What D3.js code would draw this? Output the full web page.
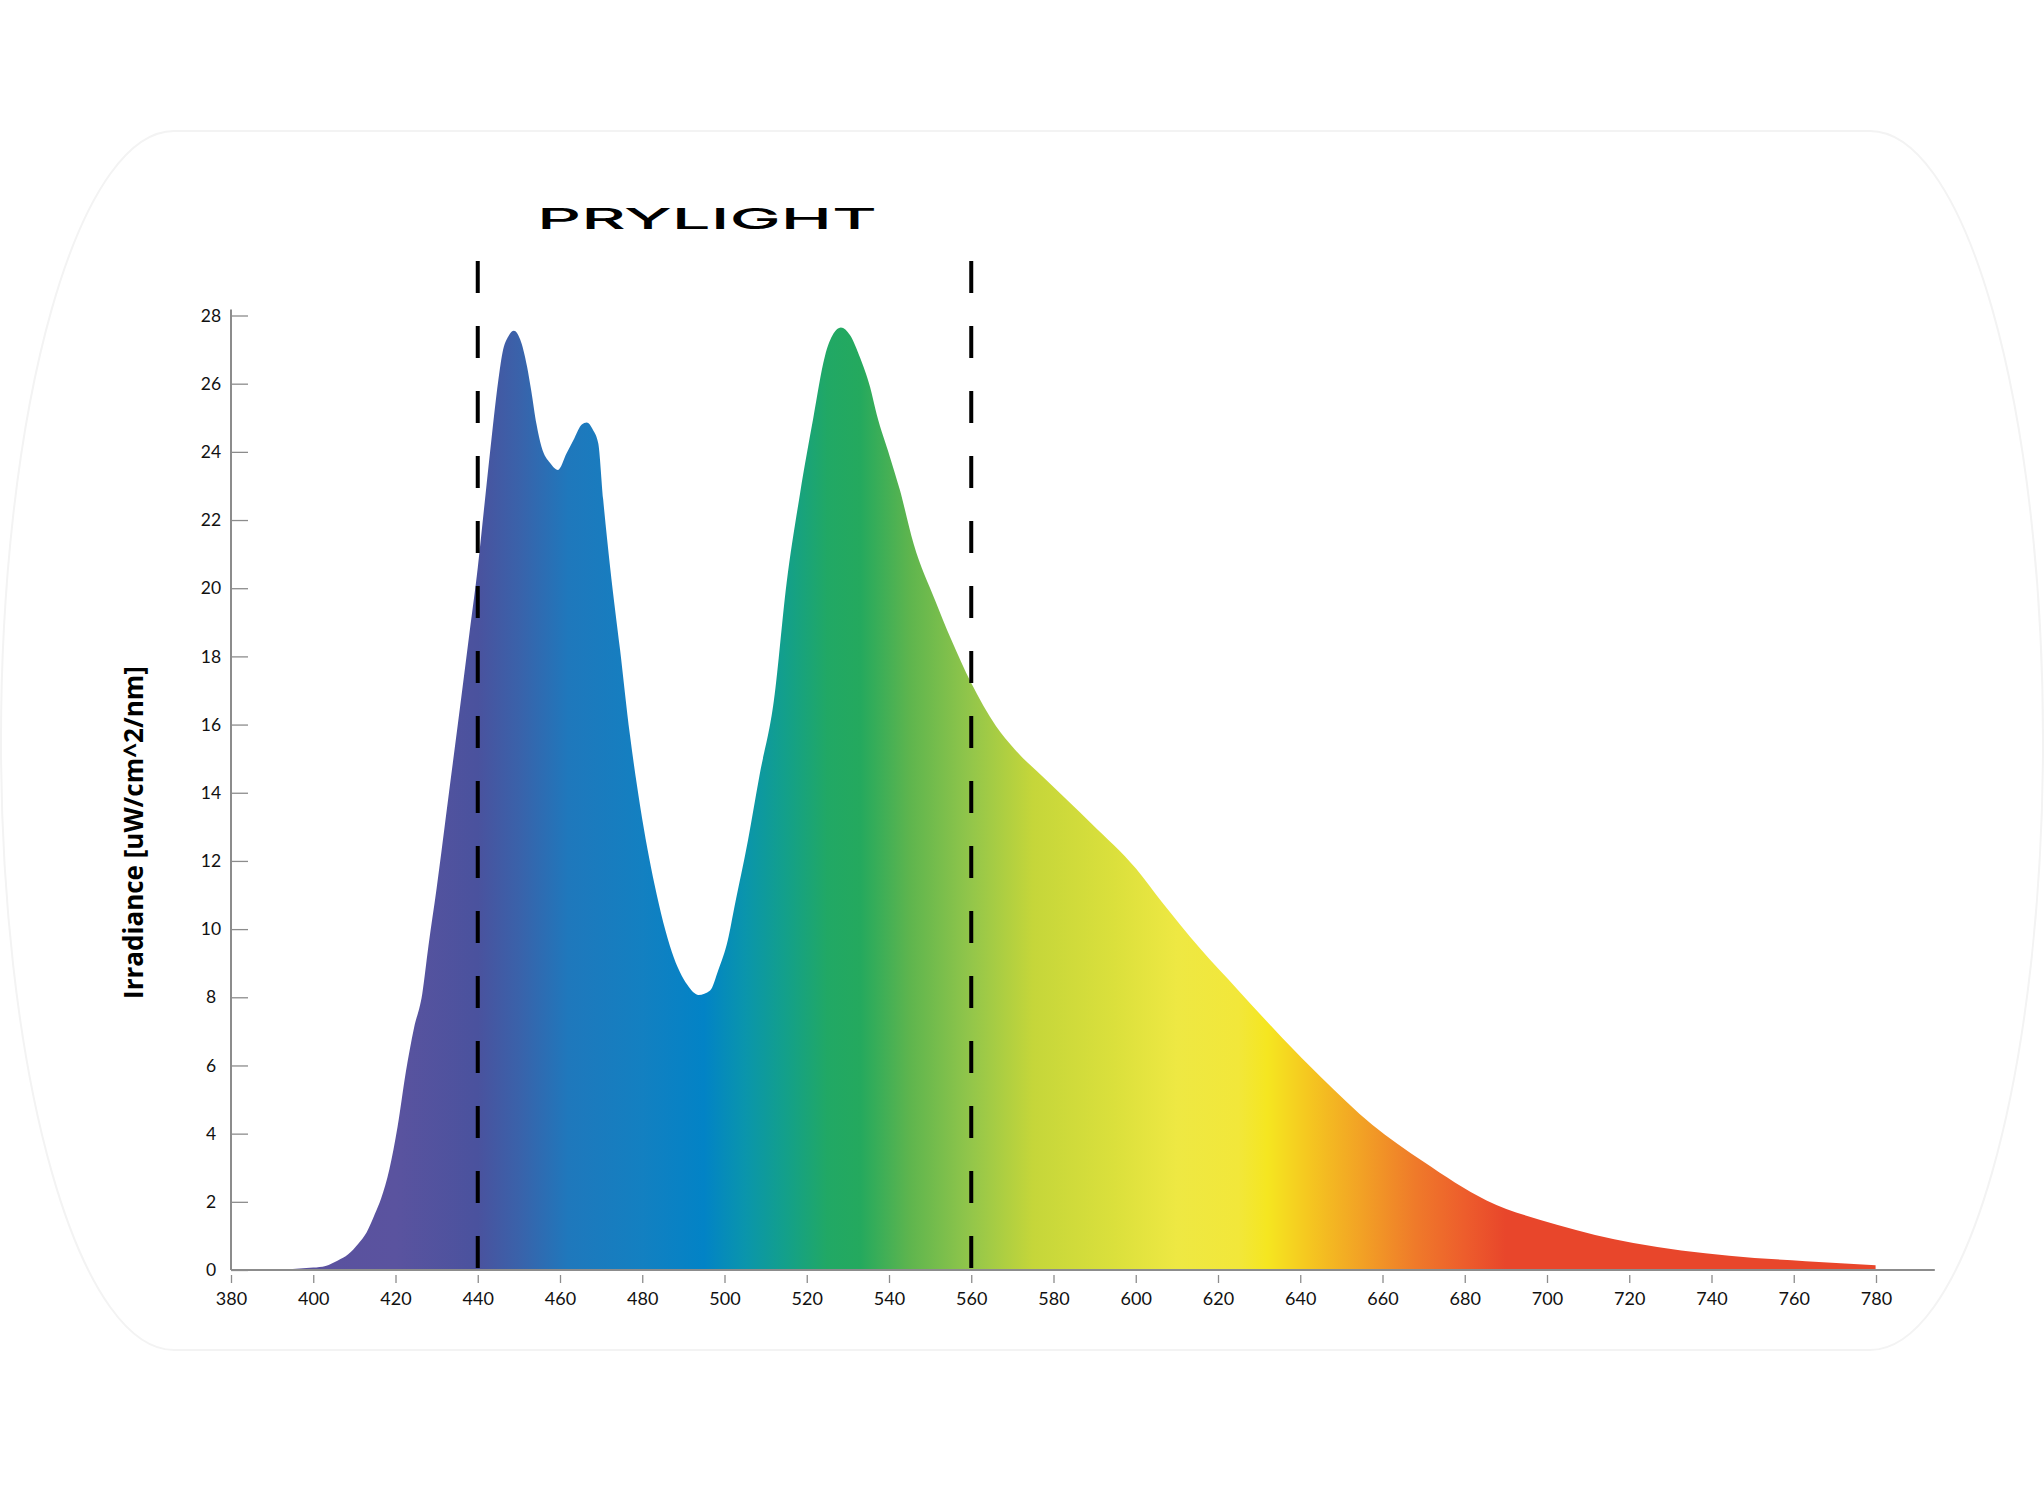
<!DOCTYPE html>
<html>
<head>
<meta charset="utf-8">
<script src="https://cdn.jsdelivr.net/npm/d3@7"></script>
<style>
  html, body { margin: 0; padding: 0; background: #ffffff; }
  svg { display: block; }
</style>
</head>
<body>
<svg id="chart" width="2044" height="1485"></svg>
<script>
// ---------------- DATA ----------------
const titleText = "PRYLIGHT";
const yAxisTitle = "Irradiance [uW/cm^2/nm]";

const wavelengths = [380, 385, 390, 395, 400, 403, 406, 408.5, 411, 413, 415, 416.5, 418.5, 420.5, 422.5, 424.5, 426.5, 428, 430, 433, 436, 438, 440, 441.5, 443, 445, 446, 447.5, 448.8, 450.3, 452, 453, 454.3, 455.5, 457.6, 459.5, 461.6, 463.5, 465.3, 466.5, 468, 469.3, 470.5, 472.2, 474.6, 477, 479.5, 483, 487.2, 491, 493.7, 496.5, 498.5, 500.8, 502.4, 505.7, 508.5, 512, 515.1, 518.4, 521.6, 524.4, 526.5, 528.3, 530.5, 533, 535.4, 537, 540.2, 542.6, 546, 551.2, 555.1, 559.9, 566, 570.6, 578.3, 589.2, 600.1, 606.3, 615.5, 624.9, 635.7, 645, 657.5, 669.9, 685.3, 702.4, 721, 744.3, 762.9, 779.9];

const irradiance = [0.0, 0.0, 0.01, 0.03, 0.07, 0.12, 0.28, 0.46, 0.78, 1.11, 1.65, 2.1, 2.95, 4.2, 5.8, 7.1, 8.1, 9.5, 11.2, 14.0, 16.8, 18.7, 20.6, 22.3, 24.0, 26.1, 26.9, 27.4, 27.55, 27.3, 26.5, 25.8, 24.8, 24.15, 23.67, 23.47, 23.96, 24.4, 24.8, 24.86, 24.65, 24.25, 22.6, 20.6, 18.2, 15.7, 13.6, 11.3, 9.33, 8.36, 8.07, 8.2, 8.8, 9.67, 10.64, 12.6, 14.5, 16.7, 20.15, 22.8, 25.0, 26.8, 27.47, 27.65, 27.43, 26.75, 25.9, 25.1, 23.86, 22.9, 21.3, 19.65, 18.5, 17.24, 15.96, 15.27, 14.37, 13.1, 11.77, 10.8, 9.45, 8.21, 6.8, 5.66, 4.26, 3.18, 2.04, 1.33, 0.79, 0.42, 0.26, 0.14];

const xTickValues = [380, 400, 420, 440, 460, 480, 500, 520, 540, 560, 580, 600, 620, 640, 660, 680, 700, 720, 740, 760, 780];
const yTickValues = [0, 2, 4, 6, 8, 10, 12, 14, 16, 18, 20, 22, 24, 26, 28];
const markerWavelengths = [440, 560];

// spectral colour stops (wavelength -> colour)
const spectrumNm     = [380, 420, 440, 450, 462, 480, 495, 505, 515, 525, 533, 545, 560, 575, 595, 610, 625, 632, 642, 655, 668, 680, 690, 780];
const spectrumColors = ["#5a4f9e", "#5a539f", "#4a529e", "#3a62aa", "#1f78bc", "#1380c1", "#0283c6", "#0a95ac", "#13a08a", "#21a865", "#24a95e", "#5eb54e", "#93c64a", "#c5d63a", "#dbe03c", "#eee843", "#f2e73a", "#f5e620", "#f5c720", "#f2a125", "#ef7a2a", "#ed5d2c", "#e8462b", "#e8462b"];

// ---------------- CHART ----------------
const data = wavelengths.map((w, i) => ({ w, v: irradiance[i] }));
const svg = d3.select("#chart");
const W = 2044, H = 1485;

const x = d3.scaleLinear().domain([380, 780]).range([231, 1876]);
const y = d3.scaleLinear().domain([0, 28]).range([1270, 315.5]);

// rounded background panel
svg.append("rect")
  .attr("x", 1).attr("y", 131)
  .attr("width", W - 2).attr("height", 1219)
  .attr("rx", 173).attr("ry", 609)
  .attr("fill", "#ffffff")
  .attr("stroke", "#f3f3f3")
  .attr("stroke-width", 2);

// gradient
const defs = svg.append("defs");
const grad = defs.append("linearGradient")
  .attr("id", "spectrum")
  .attr("gradientUnits", "userSpaceOnUse")
  .attr("x1", x(380)).attr("x2", x(780))
  .attr("y1", 0).attr("y2", 0);
spectrumNm.forEach((nm, i) => {
  grad.append("stop")
    .attr("offset", (nm - 380) / 400)
    .attr("stop-color", spectrumColors[i]);
});

// area
const area = d3.area()
  .x(d => x(d.w))
  .y0(y(0))
  .y1(d => y(d.v))
  .curve(d3.curveMonotoneX);

svg.append("path")
  .datum(data)
  .attr("d", area)
  .attr("fill", "url(#spectrum)");

// axes
const axisColor = "#8c8c8c";
const fontFamily = "Lato, 'Open Sans', 'DejaVu Sans', sans-serif";

// x baseline
svg.append("line")
  .attr("x1", x(380)).attr("x2", x(794.3))
  .attr("y1", y(0)).attr("y2", y(0))
  .attr("stroke", axisColor).attr("stroke-width", 2);

// y axis line
svg.append("line")
  .attr("x1", x(380)).attr("x2", x(380))
  .attr("y1", y(28) - 6).attr("y2", y(0))
  .attr("stroke", axisColor).attr("stroke-width", 2);

const xAxis = d3.axisBottom(x)
  .tickValues(xTickValues)
  .tickFormat(d3.format("d"))
  .tickSize(8)
  .tickPadding(9);
const gx = svg.append("g")
  .attr("transform", `translate(0, ${y(0) + 5})`)
  .call(xAxis);
gx.select(".domain").remove();
gx.selectAll(".tick line").attr("stroke", axisColor).attr("stroke-width", 1.3);
gx.selectAll(".tick text")
  .attr("fill", "#111")
  .style("font-family", fontFamily)
  .style("font-size", "18px");

const yAxis = d3.axisLeft(y)
  .tickValues(yTickValues)
  .tickFormat(d3.format("d"))
  .tickSizeInner(-17)
  .tickSizeOuter(0)
  .tickPadding(20);
const gy = svg.append("g")
  .attr("transform", `translate(${x(380)}, 0)`)
  .call(yAxis);
gy.select(".domain").remove();
gy.selectAll(".tick line").attr("stroke", axisColor).attr("stroke-width", 1.3);
gy.selectAll(".tick text")
  .attr("fill", "#111")
  .attr("text-anchor", "middle")
  .style("font-family", fontFamily)
  .style("font-size", "17.5px");

// dashed marker lines
svg.selectAll("line.marker")
  .data(markerWavelengths)
  .join("line")
  .attr("class", "marker")
  .attr("x1", d => x(d)).attr("x2", d => x(d))
  .attr("y1", 261).attr("y2", y(0))
  .attr("stroke", "#000")
  .attr("stroke-width", 4)
  .attr("stroke-dasharray", "32 33");

// title
svg.append("text")
  .attr("x", 537).attr("y", 228.5)
  .attr("textLength", 340)
  .attr("lengthAdjust", "spacingAndGlyphs")
  .attr("fill", "#000")
  .style("font-family", "Inter, Roboto, 'Noto Sans', sans-serif")
  .style("font-size", "29px")
  .style("font-weight", "500")
  .text(titleText);

// y axis title
svg.append("text")
  .attr("transform", `translate(143, 832.5) rotate(-90)`)
  .attr("text-anchor", "middle")
  .attr("fill", "#000")
  .style("font-family", "'Open Sans', Lato, sans-serif")
  .style("font-size", "26px")
  .style("font-weight", "bold")
  .text(yAxisTitle);
</script>
</body>
</html>
